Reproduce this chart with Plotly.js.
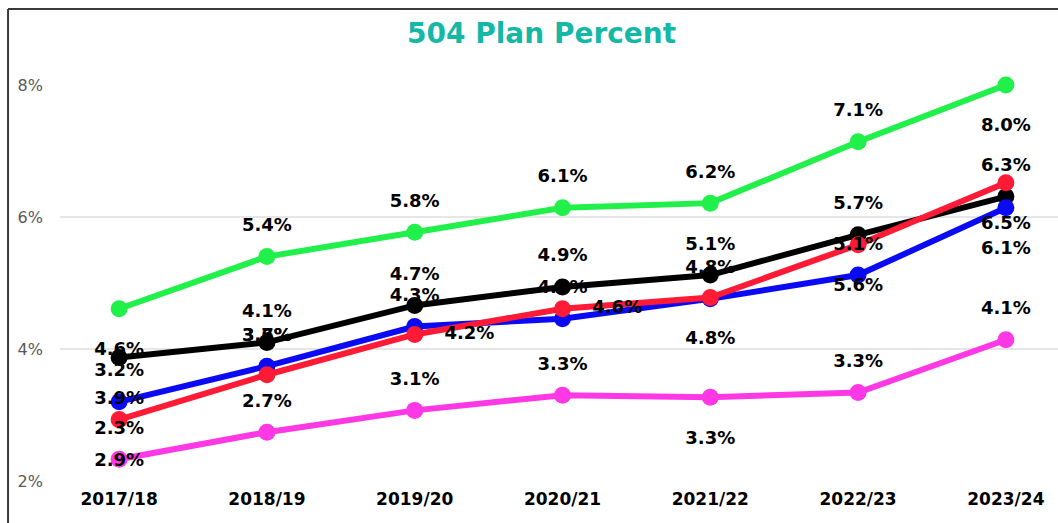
<!DOCTYPE html>
<html>
<head>
<meta charset="utf-8">
<script src="https://cdn.plot.ly/plotly-3.0.1.min.js"></script>
<style>
  html, body { margin: 0; padding: 0; background: #ffffff; overflow: hidden; }
  #chart { width: 1065px; height: 523px; }
</style>
</head>
<body>
<div id="chart"></div>
<script>
// ---- data (percent values) ----
var categories = ['2017/18', '2018/19', '2019/20', '2020/21', '2021/22', '2022/23', '2023/24'];
var greenValues   = [4.61, 5.40, 5.77, 6.14, 6.21, 7.14, 8.00];
var blackValues   = [3.87, 4.10, 4.66, 4.94, 5.12, 5.73, 6.31];
var blueValues    = [3.20, 3.74, 4.34, 4.46, 4.76, 5.12, 6.14];
var redValues     = [2.93, 3.61, 4.22, 4.61, 4.78, 5.58, 6.52];
var magentaValues = [2.33, 2.74, 3.07, 3.30, 3.27, 3.34, 4.14];
var yTickValues = [2, 4, 6, 8];
var chartTitle = '504 Plan Percent';

// ---- label placement (style) ----
var greenLabelPos   = ['bottom', 'top', 'top', 'top', 'top', 'top', 'bottom'];
var blackLabelPos   = ['bottom', 'top', 'top', 'top', 'top', 'top', 'top'];
var blueLabelPos    = ['top', 'top', 'top', 'top', 'top', 'top', 'bottom'];
var redLabelPos     = ['bottom', 'topFar', 'right', 'right', 'bottom', 'bottom', 'bottom'];
var magentaLabelPos = ['top', 'top', 'top', 'top', 'bottom', 'top', 'top'];

var posMap  = { top: 'top center', topFar: 'top center', bottom: 'bottom center', right: 'middle right' };
var gapMap  = { top: 32, topFar: 45, bottom: 51, right: 46 };

var series = [
  { vals: greenValues,   color: '#22F04A', pos: greenLabelPos },
  { vals: magentaValues, color: '#FF38E6', pos: magentaLabelPos },
  { vals: blackValues,   color: '#000000', pos: blackLabelPos },
  { vals: blueValues,    color: '#0A0AF5', pos: blueLabelPos },
  { vals: redValues,     color: '#FF1A35', pos: redLabelPos }
];

var traces = [];
series.forEach(function (s) {
  traces.push({
    type: 'scatter', mode: 'lines+markers',
    x: categories, y: s.vals,
    line: { color: s.color, width: 6 },
    marker: { color: s.color, size: 17 },
    cliponaxis: false, hoverinfo: 'x+y', showlegend: false
  });
});
series.forEach(function (s) {
  traces.push({
    type: 'scatter', mode: 'markers+text',
    x: categories, y: s.vals,
    text: s.vals.map(function (v) { return v.toFixed(1) + '%'; }),
    textposition: s.pos.map(function (p) { return posMap[p]; }),
    textfont: { family: 'DejaVu Sans, Verdana, sans-serif', size: 18, color: '#000000', weight: 'bold' },
    marker: { size: s.pos.map(function (p) { return gapMap[p]; }), opacity: 0, color: s.color },
    cliponaxis: false, hoverinfo: 'skip', showlegend: false
  });
});

var layout = {
  width: 1065, height: 523,
  margin: { l: 60, r: 0, t: 85, b: 42 },
  paper_bgcolor: '#ffffff', plot_bgcolor: '#ffffff',
  title: {
    text: chartTitle,
    font: { family: 'DejaVu Sans, Verdana, sans-serif', size: 28, color: '#14B8A6', weight: 'bold' },
    xref: 'container', x: 0.5085, xanchor: 'center',
    yref: 'container', y: 0.937, yanchor: 'middle'
  },
  xaxis: {
    type: 'category', categoryorder: 'array', categoryarray: categories,
    range: [-0.4, 6.4], showgrid: false, zeroline: false, showline: false,
    ticks: '', ticklabelstandoff: 6,
    tickfont: { family: 'DejaVu Sans, Verdana, sans-serif', size: 17, color: '#000000', weight: 'bold' }
  },
  yaxis: {
    range: [2, 8], tickmode: 'array', tickvals: yTickValues,
    ticktext: yTickValues.map(function (v) { return v + '%'; }),
    showgrid: true, gridcolor: '#e6e6e6', gridwidth: 1.5,
    zeroline: false, showline: false, ticks: '', ticklabelstandoff: 16,
    tickfont: { family: 'DejaVu Sans, Verdana, sans-serif', size: 16, color: '#595959' }
  },
  shapes: [
    { type: 'line', xref: 'paper', yref: 'paper', x0: -0.0517, x1: -0.0517, y0: -0.2, y1: 1.192,
      line: { color: '#3a3a3a', width: 2 } },
    { type: 'line', xref: 'paper', yref: 'paper', x0: -0.0517, x1: 1.05, y0: 1.192, y1: 1.192,
      line: { color: '#3a3a3a', width: 2 } }
  ]
};

Plotly.newPlot('chart', traces, layout, { displayModeBar: false, staticPlot: true });
</script>
</body>
</html>
